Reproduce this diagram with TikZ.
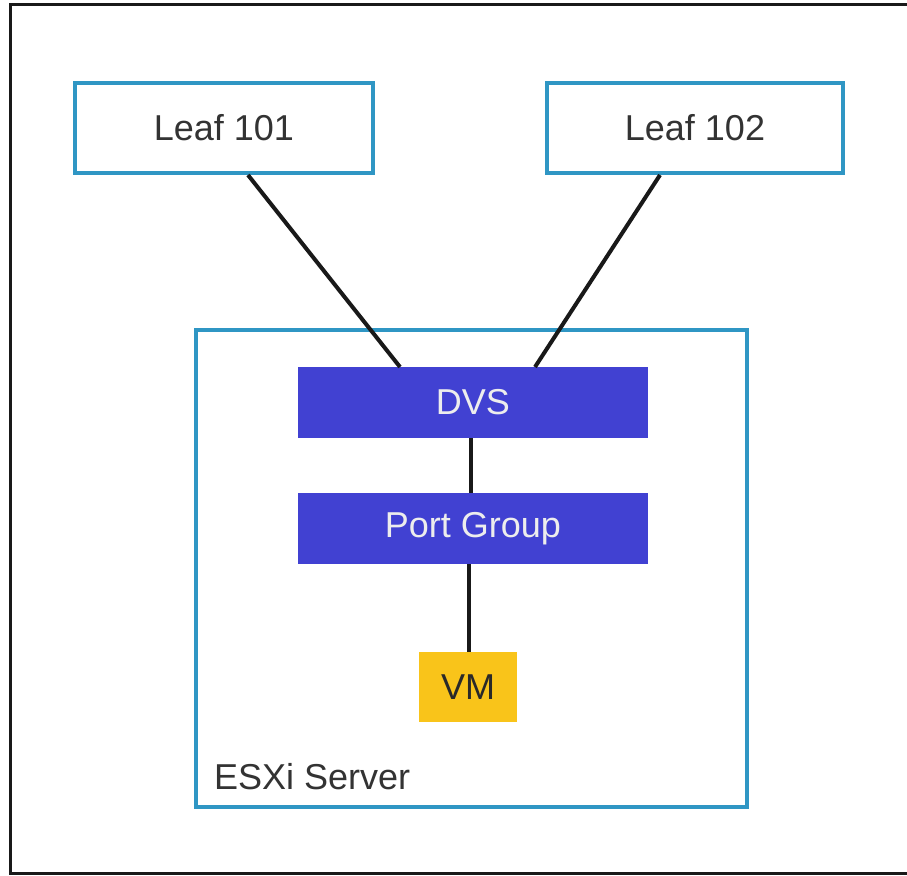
\documentclass[tikz,border=0pt]{standalone}
\usepackage{fontspec}
\setmainfont{Liberation Sans}
\definecolor{boxcyan}{HTML}{2F96C4}
\definecolor{dvsblue}{HTML}{4141D2}
\definecolor{vmyellow}{HTML}{F9C41A}
\definecolor{txtgray}{HTML}{333333}
\begin{document}
\begin{tikzpicture}[x=1pt,y=-1pt,
  leafbox/.style={draw=boxcyan,line width=3.5pt,fill=white,text=txtgray,font=\fontsize{36}{42}\selectfont,inner sep=0pt},
  bluebar/.style={fill=dvsblue,text=white!93!black,font=\fontsize{36}{42}\selectfont,inner sep=0pt},
  vmbox/.style={fill=vmyellow,text=txtgray!80!black,font=\fontsize{36}{42}\selectfont,inner sep=0pt},
  wire/.style={line width=4pt,black!90}]
\useasboundingbox (0,0) rectangle (907,875);
\fill[white] (0,0) rectangle (907,875);
% outer frame (right side cut off)
\draw[line width=3pt,black!90] (907,5) -- (10,5) -- (10,873) -- (907,873);
% ESXi server
\node[draw=boxcyan,line width=3.5pt,minimum width=551pt,minimum height=477pt,inner sep=0pt] (esxi) at (471.5,568.5) {};
\node[anchor=base west,text=txtgray,font=\fontsize{36}{42}\selectfont,inner sep=0pt] (esxilbl) at (214,789) {ESXi Server};
% leaves
\node[leafbox,minimum width=298pt,minimum height=90pt] (leaf1) at (224,128) {Leaf 101};
\node[leafbox,minimum width=296pt,minimum height=90pt] (leaf2) at (695,128) {Leaf 102};
% DVS, port group, VM
\node[bluebar,minimum width=350pt,minimum height=71pt] (dvs) at (473,402.5) {DVS};
\node[bluebar,minimum width=350pt,minimum height=71pt] (pg) at (473,528.5) {Port Group};
\node[vmbox,minimum width=98pt,minimum height=70pt] (vm) at (468,687) {VM};
% connectors
\coordinate (l1b) at (248,175);
\coordinate (l2b) at (660,175);
\coordinate (dvsl) at (400,367);
\coordinate (dvsr) at (535,367);
\draw[wire] (l1b) -- (dvsl);
\draw[wire] (l2b) -- (dvsr);
\draw[wire] (dvs.south -| 471,0) -- (pg.north -| 471,0);
\draw[wire] (pg.south -| 469,0) -- (vm.north -| 469,0);
\end{tikzpicture}
\end{document}
